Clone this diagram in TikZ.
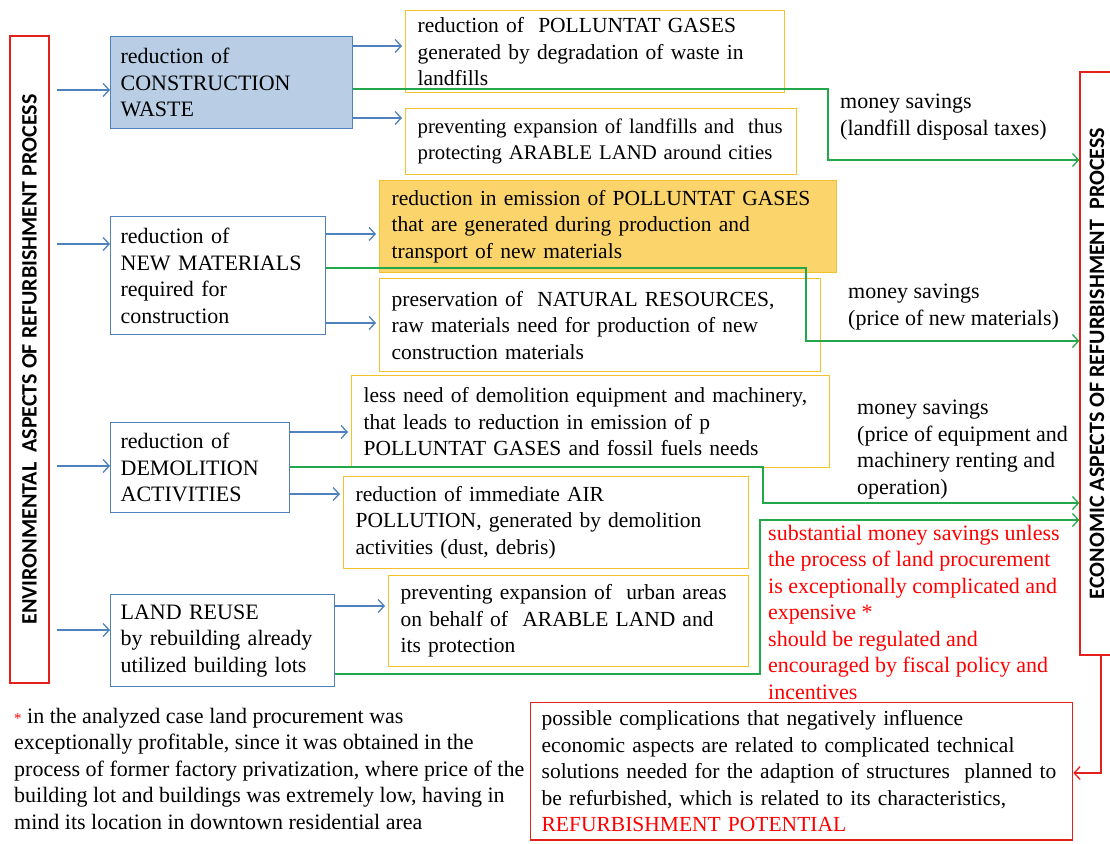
\documentclass[tikz,border=0pt]{standalone}
\usepackage{fontspec}
\setmainfont{Liberation Serif}
\newfontfamily\headfont{Carlito}
\usetikzlibrary{arrows.meta}
\definecolor{boxblue}{HTML}{4F81BD}
\definecolor{fillblue}{HTML}{B9CDE5}
\definecolor{boxgold}{HTML}{F2C12E}
\definecolor{fillgold}{HTML}{FBD56B}
\definecolor{linegreen}{HTML}{22A84A}
\definecolor{boxred}{HTML}{E3201B}

\begin{document}
\begin{tikzpicture}[x=1pt,y=-1pt,
  every node/.style={font=\fontsize{22}{26.5}\selectfont},
  aspect/.style={draw=boxred, line width=1.3pt, rotate=90, font=\headfont\bfseries\fontsize{22}{24}\selectfont},
  blubox/.style={draw=boxblue, line width=1.3pt, anchor=north west, align=left, inner xsep=10pt},
  golbox/.style={draw=boxgold, line width=1.3pt, anchor=north west, align=left, inner xsep=12pt, font=\fontsize{21.5}{26.5}\selectfont},
  plain/.style={anchor=north west, align=left, inner sep=0pt},
  barrow/.style={boxblue, line width=1.3pt, -{Straight Barb[length=6pt,width=13pt]}},
  garrow/.style={linegreen, line width=1.3pt, -{Straight Barb[length=6pt,width=13pt]}},
  rarrow/.style={boxred, line width=1.3pt, -{Straight Barb[length=6pt,width=13pt]}}]
\useasboundingbox (0,0) rectangle (1110,843);

\node[aspect, minimum width=647pt, minimum height=39pt] (env) at (29.5,359.5) {ENVIRONMENTAL\ \ ASPECTS OF REFURBISHMENT PROCESS};
\node[aspect, minimum width=583pt, minimum height=34pt] (econ) at (1097,363.5) {ECONOMIC ASPECTS OF REFURBISHMENT\ \ PROCESS};

\node[blubox, fill=fillblue, text width=222pt, minimum height=92pt] (waste) at (110,36) {reduction of\\CONSTRUCTION\\WASTE};
\node[blubox, text width=195pt, minimum height=118pt] (newmat) at (110,216) {reduction of\\NEW MATERIALS\\required for\\construction};
\node[blubox, text width=159pt, minimum height=90pt] (demol) at (110,422) {reduction of\\DEMOLITION\\ACTIVITIES};
\node[blubox, text width=204pt, minimum height=92pt] (reuse) at (110,594) {LAND REUSE\\by rebuilding already\\utilized building lots};

\node[golbox, text width=355pt, minimum height=82pt] (gases) at (405,10) {reduction of\ \ POLLUNTAT GASES\\generated by degradation of waste in\\landfills};
\node[golbox, text width=367pt, minimum height=66pt, font=\fontsize{20.8}{26.5}\selectfont] (landfill) at (405,108) {preventing expansion of landfills and\ \ thus\\protecting ARABLE LAND around cities};
\node[golbox, fill=fillgold, text width=433pt, minimum height=92pt] (emission) at (379,180) {reduction in emission of POLLUNTAT GASES\\that are generated during production and\\transport of new materials};
\node[golbox, text width=417pt, minimum height=93pt] (natres) at (379,278) {preservation of\ \ NATURAL RESOURCES,\\raw materials need for production of new\\construction materials};
\node[golbox, text width=454pt, minimum height=92pt] (equip) at (351,375) {less need of demolition equipment and machinery,\\that leads to reduction in emission of p\\POLLUNTAT GASES and fossil fuels needs};
\node[golbox, text width=381pt, minimum height=92pt] (air) at (343,476) {reduction of immediate AIR\\POLLUTION, generated by demolition\\activities (dust, debris)};
\node[golbox, text width=336pt, minimum height=91pt] (urban) at (388,575) {preventing expansion of\ \ urban areas\\on behalf of\ \ ARABLE LAND and\\its protection};

\node[plain] (save1) at (840,94) {money savings\\(landfill disposal taxes)};
\node[plain] (save2) at (848,284) {money savings\\(price of new materials)};
\node[plain] (save3) at (857,400) {money savings\\(price of equipment and\\machinery renting and\\operation)};
\node[plain, text=red] (procure) at (768,525) {substantial money savings unless\\the process of land procurement\\is exceptionally complicated and\\expensive *\\should be regulated and\\encouraged by fiscal policy and\\incentives};

\node[plain] (note) at (14,708) {{\fontsize{15}{15}\selectfont\textcolor{red}{*}} in the analyzed case land procurement was\\exceptionally profitable, since it was obtained in the\\process of former factory privatization, where price of the\\building lot and buildings was extremely low, having in\\mind its location in downtown residential area};
\node[draw=boxred, line width=1.3pt, anchor=north west, align=left, text width=520pt, inner xsep=11pt, inner ysep=8pt, font=\fontsize{21.5}{26.5}\selectfont] (compl) at (530,702) {possible complications that negatively influence\\economic aspects are related to complicated technical\\solutions needed for the adaption of structures\ \ planned to\\be refurbished, which is related to its characteristics,\\\textcolor{red}{REFURBISHMENT POTENTIAL}};

\foreach \b/\y in {waste/90,newmat/244,demol/466,reuse/630}
  \draw[barrow] ([xshift=7pt]env.south |- 0,\y) -- (\b.west |- 0,\y);
\foreach \a/\b/\y in {waste/gases/46,waste/landfill/118,newmat/emission/234,newmat/natres/323,demol/equip/432,demol/air/494,reuse/urban/606}
  \draw[barrow, shorten >=3pt] (\a.east |- 0,\y) -- (\b.west |- 0,\y);

\draw[garrow] (waste.east |- 0,89) -| (828,160) -- (econ.north |- 0,160);
\draw[garrow] (newmat.east |- 0,268) -| (806,341) -- (econ.north |- 0,341);
\draw[garrow] (demol.east |- 0,467) -| (763,503) -- (econ.north |- 0,503);
\draw[garrow] (reuse.east |- 0,674) -| (760,520) -- (econ.north |- 0,520);
\draw[rarrow] ([xshift=4pt]econ.west) |- (compl.east |- 0,773);
\end{tikzpicture}
\end{document}
